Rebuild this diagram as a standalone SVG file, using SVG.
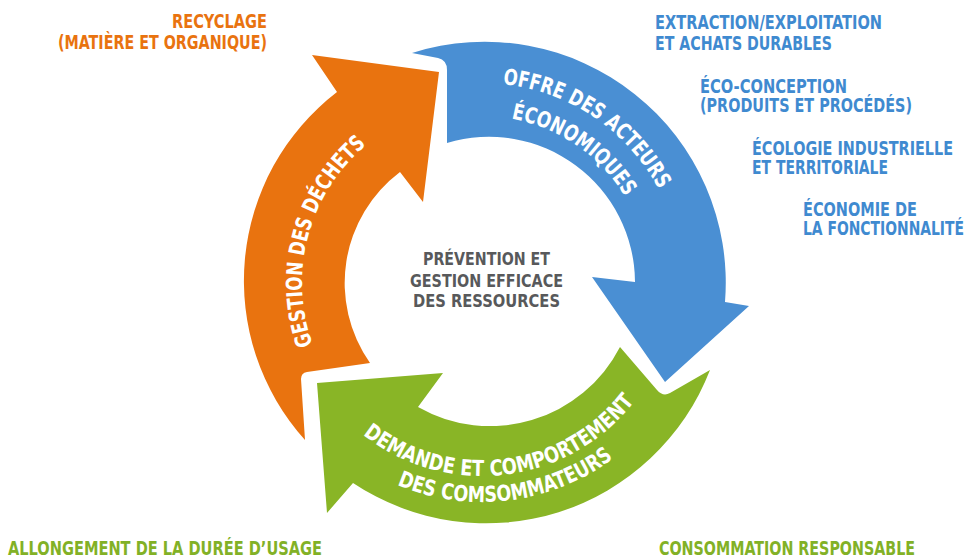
<svg xmlns="http://www.w3.org/2000/svg" width="970" height="560" viewBox="0 0 970 560">
<style>
text{font-family:"Liberation Sans Narrow","DejaVu Sans Condensed","Roboto Condensed","Liberation Sans",sans-serif;font-weight:bold;font-stretch:condensed}
.side{font-size:20px}
.or{fill:#E9730F}
.bl{fill:#3F8AD0}
.gr{fill:#82B126}
.ring{fill:#FFFFFF;font-size:22px}
.ctr{fill:#58595B;font-size:17px}
</style>
<defs>
<path id="pOr" d="M 366.3,420.9 A 180 180 0 0 1 450.7,105.7"/>
<path id="pBl1" d="M 394.3,103.2 A 200 200 0 0 1 681.5,297"/>
<path id="pBl2" d="M 410.1,132.3 A 167 167 0 0 1 648.5,296.1"/>
<path id="pGr1" d="M 327.9,399.1 A 193 193 0 0 0 659.7,358.4"/>
<path id="pGr2" d="M 307.1,414.8 A 219 219 0 0 0 683.6,368.6"/>
</defs>
<rect width="970" height="560" fill="#FFFFFF"/>
<g id="arrow-gestion-dechets">
<path fill="#E9730F" d="M 305,440 A 238 238 0 0 1 337,92 L 312,55 L 439,72 L 423,202 L 400,172 A 139 139 0 0 0 370,363 L 307,372 Q 301,373 301,379 Z"/>
<text class="ring"><textPath href="#pOr" startOffset="50%" text-anchor="middle" textLength="220" lengthAdjust="spacingAndGlyphs">GESTION DES DÉCHETS</textPath></text>
</g>
<g id="arrow-offre">
<path fill="#4A8FD3" d="M 412,53 A 241 241 0 0 1 725,302 L 749,306 L 665,382 L 592,277 L 635,282 A 146 146 0 0 0 447,143 L 447,70 Q 447,60 438,58 Z"/>
<text class="ring"><textPath href="#pBl1" startOffset="50%" text-anchor="middle" textLength="196" lengthAdjust="spacingAndGlyphs">OFFRE DES ACTEURS</textPath></text>
<text class="ring"><textPath href="#pBl2" startOffset="50%" text-anchor="middle" textLength="142" lengthAdjust="spacingAndGlyphs">ÉCONOMIQUES</textPath></text>
</g>
<g id="arrow-demande">
<path fill="#89B526" d="M 710,370 A 240 240 0 0 1 353,483 L 327,513 L 317,383 L 443,373 L 418,407 A 146 146 0 0 0 620,347 L 657,390 Q 663,397 670,393 Z"/>
<text class="ring"><textPath href="#pGr1" startOffset="50%" text-anchor="middle" textLength="304" lengthAdjust="spacingAndGlyphs">DEMANDE ET COMPORTEMENT</textPath></text>
<text class="ring"><textPath href="#pGr2" startOffset="50%" text-anchor="middle" textLength="228" lengthAdjust="spacingAndGlyphs">DES COMSOMMATEURS</textPath></text>
</g>
<g id="centre">
<text class="ctr" x="423" y="265" textLength="127" lengthAdjust="spacingAndGlyphs">PRÉVENTION ET</text>
<text class="ctr" x="410" y="287" textLength="153" lengthAdjust="spacingAndGlyphs">GESTION EFFICACE</text>
<text class="ctr" x="413" y="307" textLength="147" lengthAdjust="spacingAndGlyphs">DES RESSOURCES</text>
</g>
<g id="recyclage">
<text class="side or" x="172" y="28" textLength="95" lengthAdjust="spacingAndGlyphs">RECYCLAGE</text>
<text class="side or" x="58" y="49" textLength="209" lengthAdjust="spacingAndGlyphs">(MATIÈRE ET ORGANIQUE)</text>
</g>
<g id="extraction">
<text class="side bl" x="655" y="29" textLength="227" lengthAdjust="spacingAndGlyphs">EXTRACTION/EXPLOITATION</text>
<text class="side bl" x="655" y="50" textLength="177" lengthAdjust="spacingAndGlyphs">ET ACHATS DURABLES</text>
</g>
<g id="eco-conception">
<text class="side bl" x="700" y="93" textLength="147" lengthAdjust="spacingAndGlyphs">ÉCO-CONCEPTION</text>
<text class="side bl" x="700" y="112" textLength="212" lengthAdjust="spacingAndGlyphs">(PRODUITS ET PROCÉDÉS)</text>
</g>
<g id="ecologie">
<text class="side bl" x="752" y="155" textLength="201" lengthAdjust="spacingAndGlyphs">ÉCOLOGIE INDUSTRIELLE</text>
<text class="side bl" x="752" y="174" textLength="136" lengthAdjust="spacingAndGlyphs">ET TERRITORIALE</text>
</g>
<g id="economie">
<text class="side bl" x="803" y="216" textLength="114" lengthAdjust="spacingAndGlyphs">ÉCONOMIE DE</text>
<text class="side bl" x="803" y="235" textLength="161" lengthAdjust="spacingAndGlyphs">LA FONCTIONNALITÉ</text>
</g>
<g id="allongement">
<text class="side gr" x="8" y="555" textLength="314" lengthAdjust="spacingAndGlyphs">ALLONGEMENT DE LA DURÉE D’USAGE</text>
</g>
<g id="consommation">
<text class="side gr" x="659" y="555" textLength="256" lengthAdjust="spacingAndGlyphs">CONSOMMATION RESPONSABLE</text>
</g>
<g id="connectors"></g>
</svg>
